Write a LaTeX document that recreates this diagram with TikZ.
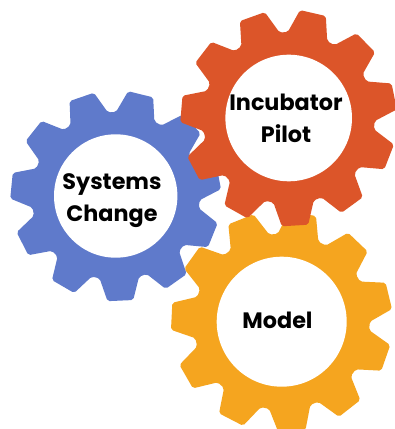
\documentclass[tikz,border=0pt]{standalone}
\usepackage{fontspec}
\setmainfont{Poppins}[BoldFont={Poppins Bold}]
\definecolor{gblue}{HTML}{5F7ACB}
\definecolor{gred}{HTML}{DC5529}
\definecolor{gyellow}{HTML}{F5A51F}
\newcommand{\gearshape}[5]{% centre, colour, start angle, root r, outer r
  \fill[#2,rounded corners=2pt,shift={#1}]
    (#3-13.6:#4)
    \foreach \k in {0,...,10}{
      -- ({#3+\k*32.7273-13.6}:#4)
      -- ({#3+\k*32.7273-7.0}:#5)
      -- ({#3+\k*32.7273+7.0}:#5)
      -- ({#3+\k*32.7273+13.6}:#4)
    } -- cycle;
}
\tikzset{
  hole/.style={circle,fill=white,inner sep=0pt},
  gearlabel/.style={font=\fontsize{22.3}{32}\selectfont\bfseries,align=center,text=black,inner sep=0pt}
}
\begin{document}
\begin{tikzpicture}[x=1pt,y=1pt]
\useasboundingbox (0,0) rectangle (395,429);
\fill[white] (0,0) rectangle (395,429);
\gearshape{(281.7,107.3)}{gyellow}{79}{88}{111}
\gearshape{(115.7,233)}{gblue}{76.2}{84}{105.5}
\gearshape{(288.7,311)}{gred}{77}{86}{108.5}
\node[hole,minimum size=123.4pt] (blue) at (115.7,233) {};
\node[hole,minimum size=126.6pt] (red) at (288.7,311) {};
\node[hole,minimum size=130pt] (yellow) at (281.7,107.3) {};
\node[gearlabel] (t1) at (112,228) {Systems\\Change};
\node[gearlabel] (t2) at (286,311) {Incubator\\Pilot};
\node[gearlabel] (t3) at (277.5,109) {Model};
\end{tikzpicture}
\end{document}
